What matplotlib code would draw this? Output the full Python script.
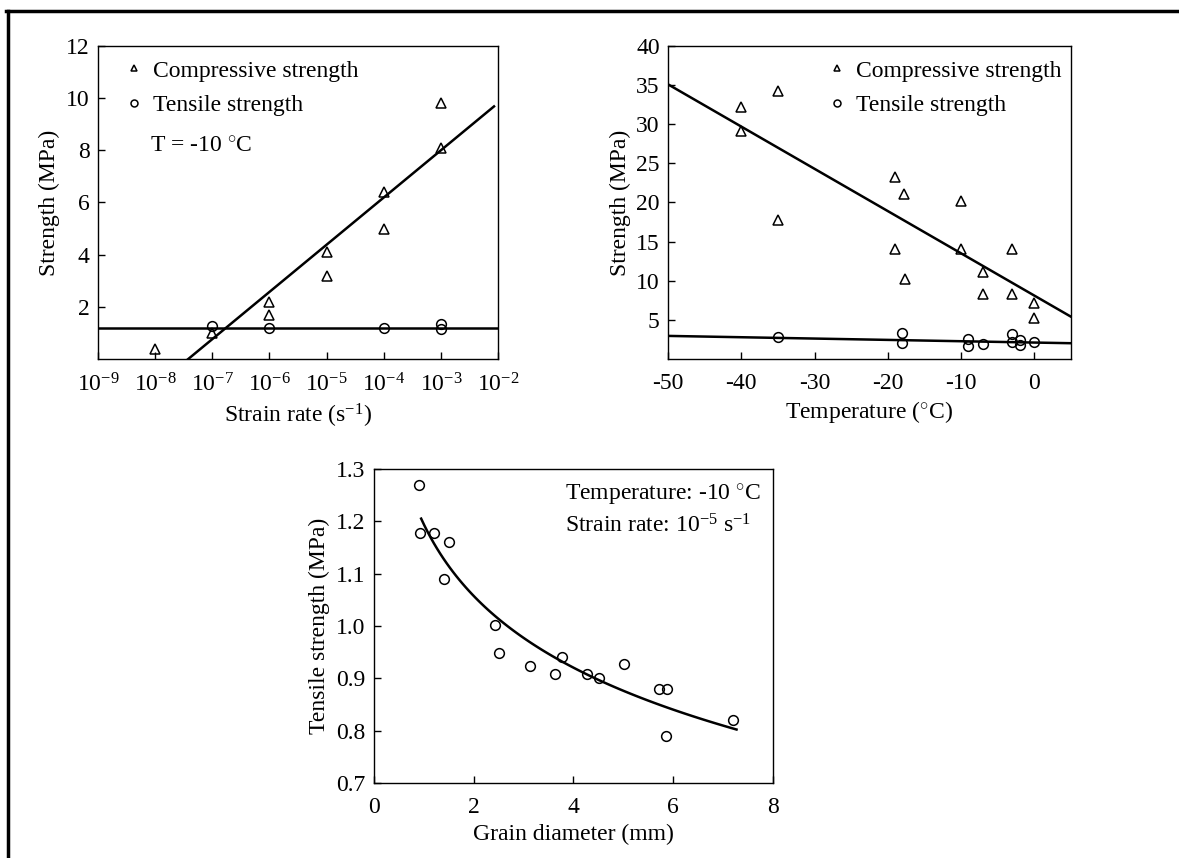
import numpy as np
import matplotlib
matplotlib.use('Agg')
import matplotlib.pyplot as plt
from matplotlib.lines import Line2D

plt.rcParams['font.family'] = ['Liberation Serif', 'DejaVu Serif']
plt.rcParams['mathtext.fontset'] = 'custom'
plt.rcParams['mathtext.rm'] = 'Liberation Serif'
plt.rcParams['mathtext.it'] = 'Liberation Serif'
plt.rcParams['mathtext.default'] = 'rm'
plt.rcParams['axes.unicode_minus'] = False

# panel (a): strength vs strain rate, T = -10 C
rate_comp = [1e-8, 1e-7, 1e-6, 1e-6, 1e-5, 1e-5, 1e-4, 1e-4, 1e-3, 1e-3]
comp_a = [0.4, 1.0, 2.2, 1.7, 4.1, 3.2, 6.4, 5.0, 9.8, 8.1]
rate_tens = [1e-7, 1e-6, 1e-4, 1e-3, 1e-3]
tens_a = [1.25, 1.2, 1.2, 1.35, 1.15]
# fitted lines: comp = slope*(log10(rate) - x0), tensile = constant
fit_a_slope = 1.81
fit_a_x0 = -7.42
fit_a_tens = 1.2

# panel (b): strength vs temperature
temp_comp = [-40, -40, -35, -35, -19, -17.8, -19, -17.7, -10, -10, -7, -7, -3, -3, 0, 0]
comp_b = [32.2, 29.1, 34.3, 17.7, 23.2, 21.1, 14.1, 10.2, 20.2, 14.1, 11.1, 8.3, 14.1, 8.3, 7.2, 5.2]
temp_tens = [-35, -18, -18, -9, -9, -7, -3, -3, -2, -2, 0]
tens_b = [2.8, 3.3, 2.0, 2.55, 1.6, 1.9, 3.2, 2.2, 2.4, 1.8, 2.2]
fit_b_comp = (8.1, -0.54)   # intercept, slope
fit_b_tens = (2.1, -0.017)

# panel (c): tensile strength vs grain diameter
grain = [0.90, 0.92, 1.20, 1.50, 1.40, 2.42, 2.51, 3.13, 3.64, 3.78, 4.27, 4.51, 5.01, 5.72, 5.88, 5.86, 7.19]
tens_c = [1.269, 1.177, 1.177, 1.160, 1.089, 1.002, 0.949, 0.924, 0.908, 0.940, 0.909, 0.900, 0.927, 0.879, 0.879, 0.789, 0.821]
fit_c = (1.195, -0.198)   # a + b*ln(d)

fs = 17
fig = plt.figure(figsize=(11.79, 8.58), dpi=100)

# frame lines (top and left)
fig.add_artist(Line2D([0.005, 1.0], [0.987, 0.987], color='black', lw=2.5, transform=fig.transFigure))
fig.add_artist(Line2D([0.007, 0.007], [0.0, 0.987], color='black', lw=2.5, transform=fig.transFigure))


def style(ax):
    ax.tick_params(direction='in', labelsize=fs, length=5, width=1, pad=6)
    ax.tick_params(axis='x', pad=10)
    ax.minorticks_off()
    for s in ax.spines.values():
        s.set_linewidth(1.0)


tri = dict(marker='^', mfc='none', mec='black', mew=1.1, ms=7, ls='none')
circ = dict(marker='o', mfc='none', mec='black', mew=1.1, ms=7, ls='none')
h1 = Line2D([], [], marker='^', mfc='none', mec='black', mew=1.1, ms=5, ls='none')
h2 = Line2D([], [], marker='o', mfc='none', mec='black', mew=1.1, ms=5, ls='none')
leg_kw = dict(frameon=False, fontsize=fs, handlelength=0.6, handletextpad=0.5,
              labelspacing=0.55, borderpad=0.2, borderaxespad=0.0)

# ---- (a)
ax1 = fig.add_axes([0.0831, 0.5816, 0.3393, 0.3648])
ax1.set_xscale('log')
ax1.plot(rate_comp, comp_a, **tri)
ax1.plot(rate_tens, tens_a, **circ)
lx = np.linspace(-7.6, -2.07, 50)
ax1.plot(10 ** lx, fit_a_slope * (lx - fit_a_x0), color='black', lw=1.8)
ax1.axhline(fit_a_tens, color='black', lw=1.8)
ax1.set_xlim(1e-9, 1e-2)
ax1.set_ylim(0, 12)
ax1.set_xticks([10.0 ** k for k in range(-9, -1)])
ax1.set_xticklabels(['$10^{%d}$' % k for k in range(-9, -1)])
ax1.set_yticks([2, 4, 6, 8, 10, 12])
style(ax1)
ax1.set_xlabel('Strain rate (s$^{-1}$)', fontsize=fs)
ax1.set_ylabel('Strength (MPa)', fontsize=fs)
ax1.legend([h1, h2], ['Compressive strength', 'Tensile strength'], loc='upper left',
           bbox_to_anchor=(0.06, 0.97), **leg_kw)
ax1.text(0.13, 0.677, 'T = -10 $^{\\circ}$C', transform=ax1.transAxes, fontsize=fs, va='center')

# ---- (b)
ax2 = fig.add_axes([0.5666, 0.5816, 0.3418, 0.3648])
ax2.plot(temp_comp, comp_b, **tri)
ax2.plot(temp_tens, tens_b, **circ)
tx = np.array([-50, 5])
ax2.plot(tx, fit_b_comp[0] + fit_b_comp[1] * tx, color='black', lw=1.8)
ax2.plot(tx, fit_b_tens[0] + fit_b_tens[1] * tx, color='black', lw=1.8)
ax2.set_xlim(-50, 5)
ax2.set_ylim(0, 40)
ax2.set_xticks([-50, -40, -30, -20, -10, 0])
ax2.set_yticks([5, 10, 15, 20, 25, 30, 35, 40])
style(ax2)
ax2.set_xlabel('Temperature ($^{\\circ}$C)', fontsize=fs)
ax2.set_ylabel('Strength (MPa)', fontsize=fs)
ax2.legend([h1, h2], ['Compressive strength', 'Tensile strength'], loc='upper left',
           bbox_to_anchor=(0.39, 0.97), **leg_kw)

# ---- (c)
ax3 = fig.add_axes([0.317, 0.0874, 0.3386, 0.366])
ax3.plot(grain, tens_c, **circ)
dx = np.linspace(0.95, 7.27, 100)
ax3.plot(dx, fit_c[0] + fit_c[1] * np.log(dx), color='black', lw=1.8)
ax3.set_xlim(0, 8)
ax3.set_ylim(0.7, 1.3)
ax3.set_xticks([0, 2, 4, 6, 8])
ax3.set_yticks([0.7, 0.8, 0.9, 1.0, 1.1, 1.2, 1.3])
ax3.set_yticklabels(['0.7', '0.8', '0.9', '1.0', '1.1', '1.2', '1.3'])
style(ax3)
ax3.set_xlabel('Grain diameter (mm)', fontsize=fs)
ax3.set_ylabel('Tensile strength (MPa)', fontsize=fs)
ax3.text(0.48, 0.917, 'Temperature: -10 $^{\\circ}$C', transform=ax3.transAxes,
         fontsize=fs, ha='left', va='center')
ax3.text(0.48, 0.82, 'Strain rate: 10$^{-5}$ s$^{-1}$', transform=ax3.transAxes,
         fontsize=fs, ha='left', va='center')

fig.savefig('out.png', dpi=100)
